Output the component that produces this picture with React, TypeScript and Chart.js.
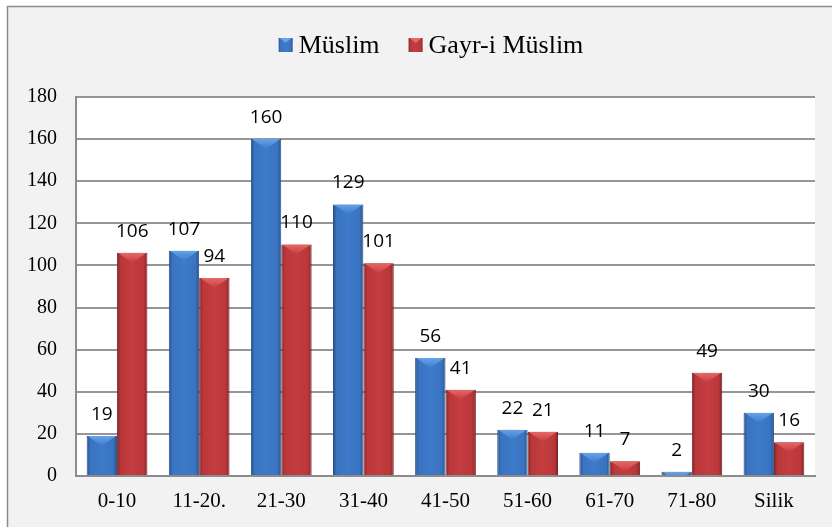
import React, { useEffect, useRef } from "react";
import { Chart, registerables } from "chart.js";

Chart.register(...registerables);

const categories = ["0-10", "11-20.", "21-30", "31-40", "41-50", "51-60", "61-70", "71-80", "Silik"];
const muslimValues = [19, 107, 160, 129, 56, 22, 11, 2, 30];
const gayriValues = [106, 94, 110, 101, 41, 21, 7, 49, 16];
const seriesNames = ["Müslim", "Gayr-i Müslim"];
const yMin = 0;
const yMax = 180;
const yStep = 20;

const BLUE = { edge: "#24508c", mid: "#3e7acb", mid2: "#3a73bf", light: "#66a3e8", solid: "#3a75c4", border: "#2a5186" };
const RED = { edge: "#7e2325", mid: "#c43d3f", mid2: "#b9373a", light: "#e8686a", solid: "#c0393b", border: "#7a2224" };
const palettes = [BLUE, RED];

const SERIF = "'Liberation Serif', 'Times New Roman', serif";
const SANS = "'Open Sans', 'Liberation Sans', sans-serif";

function barGradient(ctx: CanvasRenderingContext2D, left: number, right: number, p: typeof BLUE) {
  const g = ctx.createLinearGradient(left, 0, right, 0);
  g.addColorStop(0, p.edge);
  g.addColorStop(0.12, p.mid2);
  g.addColorStop(0.5, p.mid);
  g.addColorStop(0.88, p.mid2);
  g.addColorStop(1, p.edge);
  return g;
}

const decorPlugin = {
  id: "decor",
  beforeDraw(chart: any) {
    const { ctx, chartArea } = chart;
    ctx.save();
    ctx.fillStyle = "#ffffff";
    ctx.fillRect(0, 0, chart.width, chart.height);
    ctx.fillStyle = "#f2f2f2";
    ctx.fillRect(8, 7, chart.width, chart.height);
    ctx.strokeStyle = "#8c8c8c";
    ctx.lineWidth = 1.5;
    ctx.beginPath();
    ctx.moveTo(7.5, chart.height);
    ctx.lineTo(7.5, 6.5);
    ctx.lineTo(chart.width, 6.5);
    ctx.stroke();
    ctx.fillStyle = "#ffffff";
    ctx.fillRect(chartArea.left, chartArea.top, chartArea.right - chartArea.left, chartArea.bottom - chartArea.top);
    ctx.restore();
  },
  afterDatasetsDraw(chart: any) {
    const { ctx } = chart;
    ctx.save();
    chart.data.datasets.forEach((ds: any, di: number) => {
      const meta = chart.getDatasetMeta(di);
      const p = palettes[di];
      meta.data.forEach((bar: any, i: number) => {
        const { x, y, base, width } = bar.getProps(["x", "y", "base", "width"], true);
        const left = x - width / 2;
        const right = x + width / 2;
        const h = base - y;
        if (h <= 0) return;
        ctx.save();
        ctx.beginPath();
        ctx.rect(left, y, width, h);
        ctx.clip();
        const depth = 10;
        const g = ctx.createLinearGradient(0, y, 0, y + depth);
        g.addColorStop(0, p.light);
        g.addColorStop(1, p.mid);
        ctx.fillStyle = g;
        ctx.beginPath();
        ctx.moveTo(left + 1, y);
        ctx.lineTo(right - 1, y);
        ctx.lineTo(x, y + depth);
        ctx.closePath();
        ctx.fill();
        ctx.restore();
        // data label
        ctx.fillStyle = "#000000";
        ctx.font = `19px ${SANS}`;
        ctx.textAlign = "center";
        ctx.textBaseline = "alphabetic";
        ctx.fillText(String(ds.data[i]), x, y - 16);
      });
    });
    ctx.restore();
  },
  afterDraw(chart: any) {
    const { ctx } = chart;
    ctx.save();
    ctx.font = `26px ${SERIF}`;
    const box = 14;
    const gapBoxText = 6;
    const gapItems = 29;
    const widths = seriesNames.map((n) => ctx.measureText(n).width);
    const total = widths.reduce((a, w) => a + box + gapBoxText + w, 0) + gapItems * (seriesNames.length - 1);
    let cx = 431 - total / 2;
    const boxTop = 38;
    const baseline = 53;
    seriesNames.forEach((name, i) => {
      const p = palettes[i];
      ctx.fillStyle = barGradient(ctx, cx, cx + box, p);
      ctx.fillRect(cx, boxTop, box, box);
      ctx.fillStyle = p.light;
      ctx.beginPath();
      ctx.moveTo(cx + 1, boxTop);
      ctx.lineTo(cx + box - 1, boxTop);
      ctx.lineTo(cx + box / 2, boxTop + 5);
      ctx.closePath();
      ctx.fill();
      ctx.fillStyle = "#000000";
      ctx.textAlign = "left";
      ctx.textBaseline = "alphabetic";
      ctx.fillText(name, cx + box + gapBoxText, baseline);
      cx += box + gapBoxText + widths[i] + gapItems;
    });
    ctx.restore();
  },
};

function makeBg(di: number) {
  return (c: any) => {
    const chart = c.chart;
    const xs = chart.scales && chart.scales.x;
    const p = palettes[di];
    if (!xs || c.type !== "data" || !chart.chartArea) return p.solid;
    const center = xs.getPixelForValue(c.dataIndex);
    const catW = (xs.right - xs.left) / categories.length;
    const barW = (catW * 0.74) / 2;
    const left = di === 0 ? center - barW : center;
    return barGradient(chart.ctx, left, left + barW, p);
  };
}

export default function App() {
  const ref = useRef<HTMLCanvasElement>(null);
  useEffect(() => {
    if (!ref.current) return;
    const chart = new Chart(ref.current, {
      type: "bar",
      data: {
        labels: categories,
        datasets: [
          {
            label: seriesNames[0],
            data: muslimValues,
            backgroundColor: makeBg(0),
            borderColor: BLUE.border,
            borderWidth: 1,
            categoryPercentage: 0.74,
            barPercentage: 1.0,
          },
          {
            label: seriesNames[1],
            data: gayriValues,
            backgroundColor: makeBg(1),
            borderColor: RED.border,
            borderWidth: 1,
            categoryPercentage: 0.74,
            barPercentage: 1.0,
          },
        ],
      },
      options: {
        responsive: false,
        animation: false,
        devicePixelRatio: 1,
        layout: { padding: { left: 0, top: 97, right: 17, bottom: 0 } },
        plugins: {
          legend: { display: false },
          tooltip: { enabled: false },
          title: { display: false },
        },
        scales: {
          x: {
            grid: { display: false, drawTicks: false },
            border: { display: true, color: "#8c8c8c", width: 2 },
            ticks: { color: "#000", font: { family: SERIF, size: 21 }, padding: 13, maxRotation: 0, autoSkip: false },
            afterFit: (s: any) => {
              s.height = 51;
            },
          },
          y: {
            min: yMin,
            max: yMax,
            ticks: { stepSize: yStep, color: "#000", font: { family: SERIF, size: 20 }, padding: 19 },
            grid: { color: "#969696", lineWidth: 2, drawTicks: false },
            border: { display: true, color: "#8c8c8c", width: 2 },
            afterFit: (s: any) => {
              s.width = 76;
            },
          },
        },
      },
      plugins: [decorPlugin],
    });
    return () => chart.destroy();
  }, []);
  return (
    <canvas
      ref={ref}
      width={832}
      height={527}
      style={{ position: "fixed", left: 0, top: 0, width: 832, height: 527, display: "block" }}
    />
  );
}
